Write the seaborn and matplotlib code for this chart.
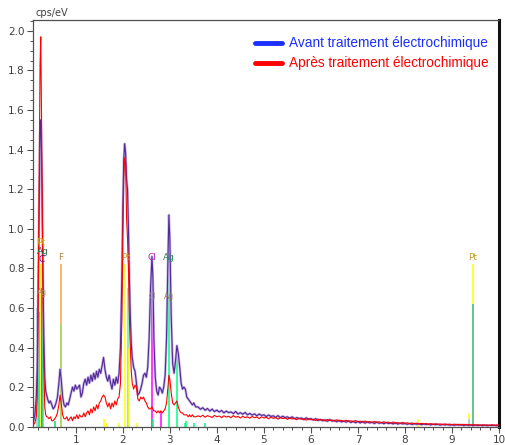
import numpy as np
import pandas as pd
import matplotlib
matplotlib.use("Agg")
import matplotlib.pyplot as plt
from matplotlib.lines import Line2D
from matplotlib.ticker import MultipleLocator
import seaborn as sns

# ---------------- data ----------------
low_energy = [0.10, 0.13, 0.16, 0.18, 0.20, 0.22, 0.24, 0.255, 0.27, 0.285, 0.30, 0.32, 0.34, 0.36,
              0.38, 0.40, 0.43, 0.46, 0.49, 0.52, 0.55, 0.58, 0.61, 0.64, 0.665, 0.69, 0.72, 0.75,
              0.78, 0.81, 0.84, 0.87, 0.90, 0.93, 0.96, 0.99, 1.02, 1.05, 1.08, 1.11, 1.14, 1.17,
              1.20, 1.23, 1.26, 1.29, 1.32, 1.35, 1.38, 1.41, 1.44, 1.47, 1.50, 1.53, 1.56, 1.59,
              1.62, 1.65, 1.68, 1.71, 1.74, 1.77, 1.80, 1.83, 1.86, 1.89, 1.92, 1.95, 1.98, 2.00,
              2.02, 2.04, 2.06, 2.08, 2.10, 2.12, 2.14, 2.16, 2.18, 2.20, 2.23, 2.26, 2.29, 2.32,
              2.35, 2.38, 2.41, 2.44, 2.47, 2.50, 2.53, 2.56, 2.59, 2.62, 2.64, 2.66, 2.69, 2.72,
              2.75, 2.78, 2.81, 2.84, 2.87, 2.90, 2.93, 2.96, 2.98, 3.00, 3.03, 3.06, 3.09, 3.12,
              3.15, 3.18, 3.21, 3.24, 3.27, 3.30, 3.33, 3.36, 3.39, 3.42, 3.45, 3.48, 3.51, 3.55]
low_avant = [0.03, 0.06, 0.15, 0.30, 0.70, 1.10, 1.50, 1.55, 1.40, 1.18, 0.80, 0.45, 0.25, 0.18,
             0.16, 0.14, 0.12, 0.13, 0.11, 0.09, 0.10, 0.12, 0.15, 0.22, 0.29, 0.24, 0.15, 0.11,
             0.10, 0.12, 0.11, 0.14, 0.17, 0.20, 0.18, 0.21, 0.19, 0.20, 0.21, 0.15, 0.17, 0.22,
             0.24, 0.21, 0.25, 0.22, 0.26, 0.23, 0.27, 0.24, 0.28, 0.25, 0.29, 0.27, 0.31, 0.35,
             0.29, 0.25, 0.23, 0.26, 0.22, 0.19, 0.24, 0.21, 0.25, 0.22, 0.27, 0.40, 0.75, 1.10,
             1.35, 1.43, 1.38, 1.25, 1.20, 1.00, 0.75, 0.55, 0.42, 0.35, 0.30, 0.28, 0.22, 0.16,
             0.17, 0.19, 0.22, 0.26, 0.27, 0.25, 0.30, 0.45, 0.70, 0.86, 0.75, 0.45, 0.25, 0.18,
             0.16, 0.20, 0.19, 0.17, 0.20, 0.26, 0.45, 0.85, 1.07, 0.95, 0.55, 0.32, 0.27, 0.33,
             0.41, 0.37, 0.30, 0.22, 0.19, 0.20, 0.19, 0.15, 0.14, 0.13, 0.12, 0.11, 0.12, 0.10]
low_apres = [0.01, 0.02, 0.05, 0.15, 0.60, 1.20, 1.83, 1.97, 1.60, 1.15, 0.70, 0.30, 0.10, 0.06,
             0.05, 0.05, 0.04, 0.05, 0.03, 0.03, 0.04, 0.05, 0.07, 0.11, 0.16, 0.12, 0.06, 0.04,
             0.04, 0.05, 0.03, 0.04, 0.05, 0.03, 0.05, 0.04, 0.06, 0.04, 0.06, 0.05, 0.05, 0.07,
             0.05, 0.07, 0.08, 0.06, 0.09, 0.07, 0.10, 0.08, 0.11, 0.09, 0.12, 0.13, 0.15, 0.16,
             0.15, 0.12, 0.10, 0.12, 0.09, 0.12, 0.10, 0.13, 0.11, 0.14, 0.15, 0.22, 0.55, 0.95,
             1.25, 1.36, 1.33, 1.05, 0.95, 0.80, 0.55, 0.40, 0.28, 0.22, 0.19, 0.21, 0.20, 0.14,
             0.13, 0.15, 0.14, 0.15, 0.13, 0.12, 0.10, 0.09, 0.09, 0.10, 0.09, 0.08, 0.08, 0.07,
             0.08, 0.07, 0.08, 0.07, 0.08, 0.09, 0.12, 0.20, 0.26, 0.24, 0.17, 0.12, 0.11, 0.12,
             0.13, 0.10, 0.08, 0.07, 0.07, 0.06, 0.06, 0.06, 0.05, 0.06, 0.05, 0.06, 0.05, 0.05]

# tail: channels every 0.05 keV from 3.60 to 10.00 keV
tail_start, tail_step = 3.60, 0.05
tail_avant = [0.100, 0.088, 0.096, 0.083, 0.092, 0.079, 0.089, 0.076, 0.084,
              0.074, 0.082, 0.070, 0.079, 0.071, 0.075, 0.066, 0.077, 0.064, 0.071,
              0.063, 0.072, 0.060, 0.067, 0.059, 0.065, 0.055, 0.064, 0.057, 0.060,
              0.051, 0.059, 0.052, 0.055, 0.047, 0.056, 0.045, 0.053, 0.046, 0.050,
              0.042, 0.050, 0.040, 0.046, 0.041, 0.044, 0.036, 0.045, 0.037, 0.041,
              0.033, 0.041, 0.031, 0.037, 0.030, 0.035, 0.027, 0.036, 0.028, 0.032,
              0.025, 0.032, 0.024, 0.029, 0.023, 0.029, 0.021, 0.028, 0.020, 0.026,
              0.019, 0.026, 0.018, 0.024, 0.019, 0.023, 0.016, 0.023, 0.017, 0.021,
              0.015, 0.021, 0.016, 0.019, 0.014, 0.019, 0.013, 0.018, 0.014, 0.016,
              0.012, 0.017, 0.011, 0.015, 0.012, 0.015, 0.010, 0.014, 0.011, 0.013,
              0.009, 0.013, 0.010, 0.012, 0.008, 0.012, 0.009, 0.011, 0.008, 0.010,
              0.007, 0.010, 0.008, 0.010, 0.006, 0.009, 0.007, 0.009, 0.006, 0.008,
              0.006, 0.008, 0.005, 0.008, 0.005, 0.007, 0.006, 0.007, 0.005, 0.007]
tail_apres = [0.055, 0.050, 0.058, 0.048, 0.056, 0.051, 0.047, 0.057, 0.050,
              0.054, 0.046, 0.055, 0.049, 0.053, 0.045, 0.056, 0.048, 0.052, 0.044,
              0.053, 0.046, 0.050, 0.043, 0.052, 0.045, 0.049, 0.041, 0.050, 0.044,
              0.047, 0.040, 0.048, 0.042, 0.046, 0.038, 0.047, 0.041, 0.044, 0.037,
              0.045, 0.039, 0.042, 0.035, 0.043, 0.037, 0.040, 0.033, 0.041, 0.035,
              0.038, 0.031, 0.039, 0.033, 0.036, 0.029, 0.037, 0.031, 0.034, 0.028,
              0.035, 0.029, 0.032, 0.026, 0.033, 0.027, 0.030, 0.024, 0.031, 0.025,
              0.028, 0.022, 0.029, 0.023, 0.026, 0.021, 0.027, 0.022, 0.025, 0.019,
              0.025, 0.020, 0.023, 0.017, 0.024, 0.018, 0.021, 0.016, 0.022, 0.017,
              0.020, 0.014, 0.019, 0.015, 0.018, 0.013, 0.017, 0.014, 0.016, 0.012,
              0.016, 0.011, 0.015, 0.012, 0.014, 0.010, 0.014, 0.011, 0.013, 0.009,
              0.013, 0.010, 0.012, 0.008, 0.012, 0.009, 0.011, 0.008, 0.011, 0.008,
              0.010, 0.007, 0.010, 0.008, 0.009, 0.007, 0.010, 0.007, 0.009, 0.008]

# element marker lines: energy (keV), bottom, top, colour
marker_energy = [0.17, 0.22, 0.255, 0.28, 0.30, 0.677, 0.677, 0.55, 1.60, 1.67, 1.91, 2.05,
                 2.12, 2.13, 2.31, 2.62, 2.64, 2.81, 2.98, 3.15, 3.32, 3.35, 3.52, 3.75,
                 8.27, 9.36, 9.36, 9.44, 9.44, 9.97]
marker_bottom = [0, 0, 0, 0, 0, 0.52, 0, 0, 0, 0, 0, 0,
                 0, 0, 0, 0, 0, 0, 0, 0, 0, 0, 0, 0,
                 0, 0.04, 0, 0.62, 0, 0]
marker_top = [0.60, 0.58, 0.82, 0.70, 0.62, 0.82, 0.52, 0.03, 0.04, 0.02, 0.02, 0.82,
              0.70, 0.40, 0.02, 0.82, 0.04, 0.08, 0.82, 0.35, 0.02, 0.03, 0.02, 0.02,
              0.04, 0.07, 0.04, 0.82, 0.62, 0.02]
marker_color = ["#8ecae6", "#00e070", "#ffff00", "#1a8060", "#40e090", "#ffa040", "#9acd32",
                "#00e070", "#ffff00", "#ffff00", "#ffff00", "#ffff00",
                "#66ee99", "#ffff00", "#ffff00", "#ff00ff", "#00ff80", "#ff00ff", "#00ff7f",
                "#00ff7f", "#00ff7f", "#00ff7f", "#00ff7f", "#00ff7f",
                "#ffff00", "#ffff00", "#99ccaa", "#ffff00", "#3cb371", "#ffff00"]

# element labels
label_text = ["Pt", "Ag", "C", "F", "Pt", "Cl", "Ag", "Pt", "Cl", "Ag", "Ag"]
label_energy = [0.25, 0.31, 0.27, 0.677, 2.05, 2.62, 2.98, 9.44, 2.62, 2.99, 0.29]
label_y = [0.93, 0.885, 0.845, 0.855, 0.855, 0.855, 0.855, 0.855, 0.66, 0.66, 0.68]
label_color = ["#d4a017", "#2e6e4e", "#5020a0", "#c08040", "#d4a017", "#b020b0", "#2e8b57",
               "#c89a20", "#9a9a9a", "#a07850", "#b08860"]
label_size = [6.5, 6.5, 6.5, 6.5, 6.5, 6.5, 6.5, 6.5, 5.5, 5.5, 5.5]

series_names = ["Avant traitement électrochimique", "Après traitement électrochimique"]
legend_colors = ["#1a2fff", "#ff0000"]
curve_colors = ["#52289a", "#ff0000"]

x_ticks = [1, 2, 3, 4, 5, 6, 7, 8, 9, 10]
y_ticks = [0.0, 0.2, 0.4, 0.6, 0.8, 1.0, 1.2, 1.4, 1.6, 1.8, 2.0]

# ---------------- build table ----------------
tail_energy = [round(tail_start + tail_step * i, 3) for i in range(len(tail_avant))]
energy = low_energy + tail_energy
df = pd.concat([
    pd.DataFrame({"keV": energy, "cps": low_avant + tail_avant, "serie": series_names[0]}),
    pd.DataFrame({"keV": energy, "cps": low_apres + tail_apres, "serie": series_names[1]}),
], ignore_index=True)

# ---------------- plot ----------------
sns.set_style("white")
plt.rcParams["font.family"] = ["DejaVu Sans"]

fig = plt.figure(figsize=(5.06, 4.45), dpi=100)
ax = fig.add_axes([33 / 506, 1 - 426.7 / 445, 466 / 506, (426.7 - 20) / 445])

# marker lines
for e, b, t, c in zip(marker_energy, marker_bottom, marker_top, marker_color):
    ax.vlines(e, b, t, colors=c, linewidth=1.1, zorder=1)

# lavender halo under the "avant" curve
sns.lineplot(data=df[df["serie"] == series_names[0]], x="keV", y="cps", ax=ax,
             color="#c4b6e2", linewidth=1.8, estimator=None, sort=False, legend=False, zorder=2)
sns.lineplot(data=df, x="keV", y="cps", hue="serie", palette=dict(zip(series_names, curve_colors)),
             ax=ax, linewidth=0.8, estimator=None, sort=False, legend=False, zorder=3)

for t, e, y, c, s in zip(label_text, label_energy, label_y, label_color, label_size):
    ax.text(e, y, t, color=c, fontsize=s, ha="center", va="center", zorder=4)

ax.set_xlim(0.09, 10.0)
ax.set_ylim(0, 2.055)
ax.set_xticks(x_ticks)
ax.set_yticks(y_ticks)
ax.set_yticklabels([f"{v:.1f}" for v in y_ticks])
ax.xaxis.set_minor_locator(MultipleLocator(0.2))
ax.yaxis.set_minor_locator(MultipleLocator(0.05))
ax.tick_params(which="major", direction="out", length=4, width=0.8, color="#505050",
               labelsize=7.5, labelcolor="#404040", pad=2)
ax.tick_params(which="minor", direction="out", length=2, width=0.7, color="#505050")
ax.tick_params(axis="x", which="both", bottom=True)
ax.tick_params(axis="y", which="both", left=True)
ax.set_xlabel("")
ax.set_ylabel("")

for side in ["left", "bottom", "top"]:
    ax.spines[side].set_visible(True)
    ax.spines[side].set_color("#505050")
    ax.spines[side].set_linewidth(0.9)
ax.spines["right"].set_visible(True)
ax.spines["right"].set_color("#111111")
ax.spines["right"].set_linewidth(2.2)

handles = [Line2D([0], [0], color=c, linewidth=3.5) for c in legend_colors]
leg = ax.legend(handles, series_names, loc="upper right", bbox_to_anchor=(1.005, 0.99),
                frameon=False, handlelength=2.0, handletextpad=0.55,
                labelspacing=0.45, labelcolor=legend_colors,
                prop={"family": "Liberation Sans", "size": 9.8})

fig.text(36 / 506, 1 - 13 / 445, "cps/eV", fontsize=7, color="#404040", ha="left", va="center")

fig.savefig("out.png", dpi=100)
